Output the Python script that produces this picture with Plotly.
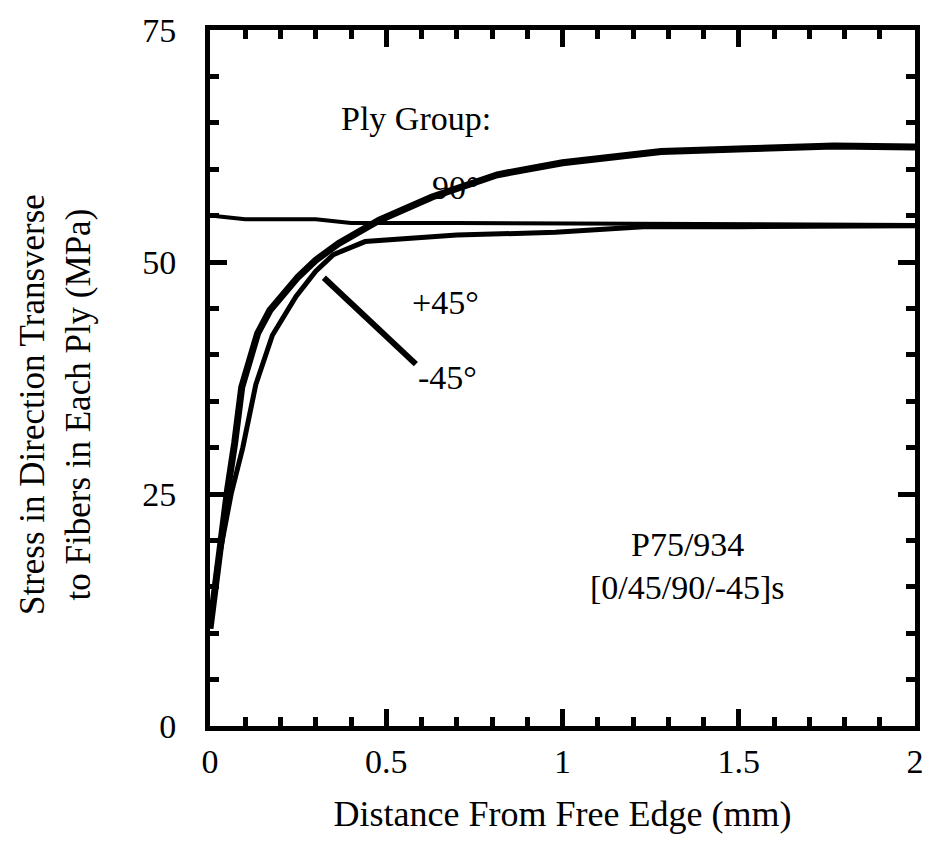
import plotly.graph_objects as go

# ---- data ----
x_90 = [0.0, 0.02, 0.035, 0.05, 0.07, 0.09, 0.135, 0.17, 0.25, 0.30, 0.365, 0.48,
        0.63, 0.815, 1.0, 1.1, 1.28, 1.52, 1.77, 2.0]
y_90 = [10.5, 17.0, 21.0, 25.5, 30.5, 36.5, 42.3, 44.8, 48.4, 50.2, 52.0, 54.5,
        57.0, 59.4, 60.7, 61.1, 61.9, 62.2, 62.5, 62.4]

x_45 = [0.0, 0.02, 0.04, 0.06, 0.093, 0.13, 0.177, 0.244, 0.30, 0.35, 0.44, 0.56,
        0.70, 0.98, 1.23, 1.5, 2.0]
y_45 = [10.5, 17.0, 21.0, 25.0, 30.0, 36.8, 42.1, 46.3, 49.0, 50.8, 52.2, 52.5,
        52.9, 53.2, 53.8, 53.8, 53.9]

x_flat = [0.0, 0.1, 0.3, 0.4, 0.7, 1.2, 2.0]
y_flat = [55.0, 54.6, 54.6, 54.2, 54.2, 54.1, 54.0]

leader_x = [0.323, 0.584]
leader_y = [48.3, 39.0]

x_ticks = [0, 0.5, 1, 1.5, 2]
x_tick_labels = ["0", "0.5", "1", "1.5", "2"]
y_ticks = [0, 25, 50, 75]
y_tick_labels = ["0", "25", "50", "75"]

FONT = "Liberation Serif"

fig = go.Figure()
fig.add_trace(go.Scatter(x=x_flat, y=y_flat, mode="lines", name="0°",
                         line=dict(color="black", width=4)))
fig.add_trace(go.Scatter(x=x_45, y=y_45, mode="lines", name="+45°",
                         line=dict(color="black", width=5)))
fig.add_trace(go.Scatter(x=x_90, y=y_90, mode="lines", name="90°",
                         line=dict(color="black", width=7)))
fig.add_trace(go.Scatter(x=leader_x, y=leader_y, mode="lines", name="-45° leader",
                         line=dict(color="black", width=6)))

ann_font = dict(family=FONT, size=34, color="black")
fig.add_annotation(x=0.584, y=65.5, text="Ply Group:", showarrow=False, font=ann_font)
fig.add_annotation(x=0.697, y=58.0, text="90°", showarrow=False, font=ann_font)
fig.add_annotation(x=0.669, y=45.6, text="+45°", showarrow=False, font=ann_font)
fig.add_annotation(x=0.674, y=37.6, text="-45°", showarrow=False, font=ann_font)
fig.add_annotation(x=1.354, y=19.6, text="P75/934", showarrow=False, font=ann_font)
fig.add_annotation(x=1.354, y=14.9, text="[0/45/90/-45]s", showarrow=False, font=ann_font)

fig.add_annotation(xref="paper", yref="paper", x=-0.219, y=0.462,
                   text="Stress in Direction Transverse<br>to Fibers in Each Ply (MPa)",
                   textangle=-90, showarrow=False, xanchor="center", yanchor="middle",
                   font=dict(family=FONT, size=35, color="black"))

axis_common = dict(showline=True, linecolor="black", linewidth=5, mirror="ticks",
                   ticks="inside", tickcolor="black", tickwidth=5, ticklen=17,
                   showgrid=False, zeroline=False,
                   tickfont=dict(family=FONT, size=34, color="black"))

fig.update_xaxes(range=[0, 2], tickvals=x_ticks, ticktext=x_tick_labels,
                 minor=dict(dtick=0.1, ticks="inside", ticklen=9, tickwidth=5,
                            tickcolor="black", showgrid=False),
                 title=dict(text="Distance From Free Edge (mm)",
                            font=dict(family=FONT, size=36, color="black"),
                            standoff=24),
                 ticklabelstandoff=1, **axis_common)
fig.update_yaxes(range=[0, 75], tickvals=y_ticks, ticktext=y_tick_labels,
                 minor=dict(dtick=5, ticks="inside", ticklen=9, tickwidth=5,
                            tickcolor="black", showgrid=False),
                 ticklabelstandoff=22, **axis_common)

fig.update_layout(width=936, height=842, margin=dict(l=210, r=14, t=20, b=116),
                  paper_bgcolor="white", plot_bgcolor="white", showlegend=False)

fig.write_html("out.html")
